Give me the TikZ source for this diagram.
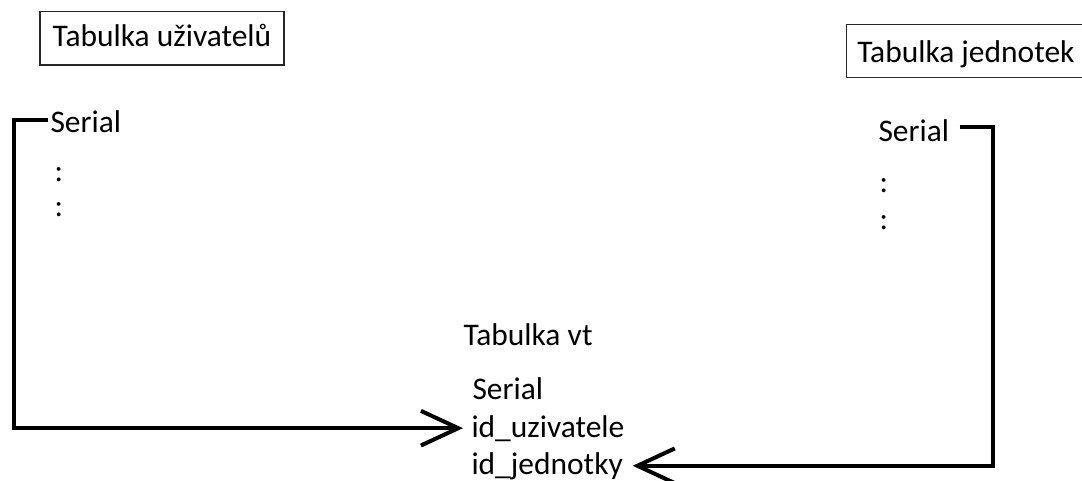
\documentclass[tikz,border=0pt]{standalone}
\usepackage{fontspec}
\setmainfont{Carlito}
\usetikzlibrary{arrows.meta}

\tikzset{every picture/.style={line width=0.75pt}}
\tikzset{
  tabbox/.style={draw=black!85, line width=1pt, inner xsep=9.5pt, minimum height=40pt,
    text height=0.72em, text depth=0.18em},
  field/.style={inner sep=1.5pt, anchor=base west},
  link/.style={line width=3pt, -{Straight Barb[length=28pt,width=26pt]}}
}

\begin{document}
\begin{tikzpicture}[x=0.75pt,y=0.75pt,yscale=-1,xscale=1]
	\useasboundingbox (0,0) rectangle (1082,481);
	\clip (0,0) rectangle (1082,481);
	\fontsize{23.6}{28}\selectfont

	% Table headers
	\node [tabbox] (tuziv) at (162,38.5) {Tabulka uživatelů};
	\node [tabbox, anchor=west, text depth=0pt, inner xsep=8pt] (tjedn) at (846,51) {\makebox[185pt][l]{Tabulka jednotek}};

	% Left column
	\node [field] (userial) at (48,133) {Serial};
	\node [field] (udot1) at (52,182) {:};
	\node [field] (udot2) at (52,217) {:};

	% Right column
	\node [field] (jserial) at (876,142) {Serial};
	\node [field] (jdot1) at (877,193) {:};
	\node [field] (jdot2) at (877,229) {:};

	% Middle table
	\node [field] (tvt) at (461,345) {Tabulka vt};
	\node [field] (vserial) at (470,399) {Serial};
	\node [field] (vuziv) at (469,437) {id\_uzivatele};
	\node [field] (vjedn) at (469,474) {id\_jednotky};

	% Links
	\coordinate (lbend) at (14,0);
	\coordinate (rbend) at (993,0);
	\draw [link, shorten >=4.5pt] ([yshift=-2pt]userial.west) -- ([yshift=-2pt]userial.west -| lbend) |- (vuziv.west);
	\draw [link, shorten <=6pt, shorten >=5.5pt] ([yshift=-3pt]jserial.east) -- ([yshift=-3pt]jserial.east -| rbend) |- (vjedn.east);

\end{tikzpicture}
\end{document}
